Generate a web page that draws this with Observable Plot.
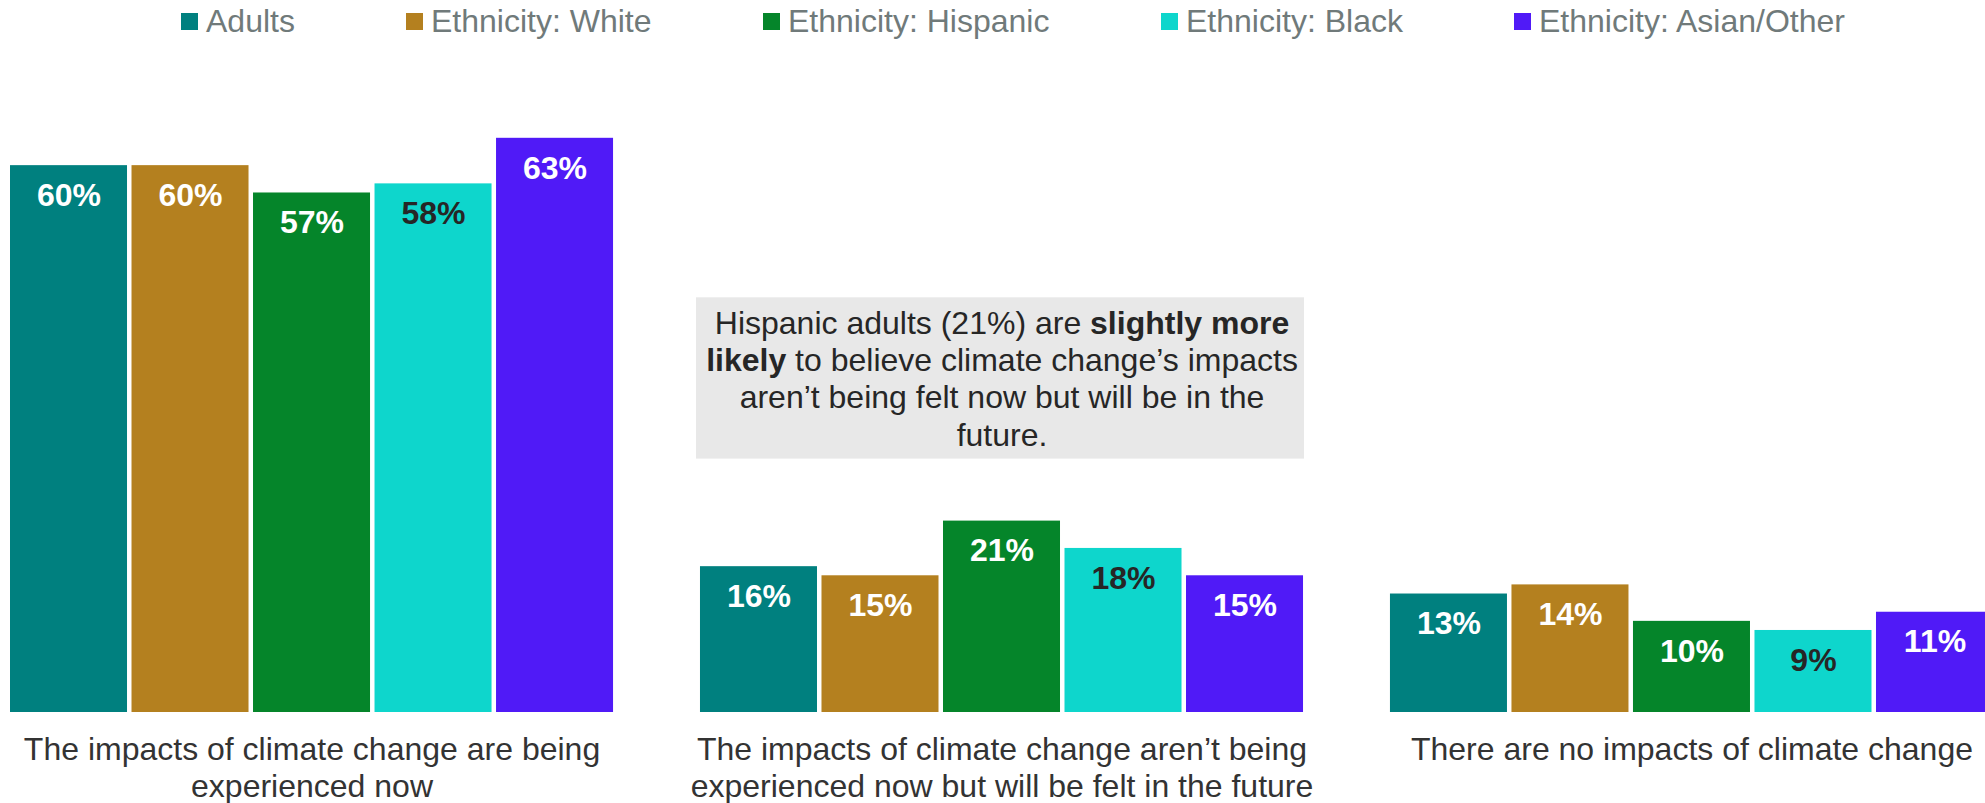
<!DOCTYPE html>
<html>
<head>
<meta charset="utf-8">
<script src="https://cdn.jsdelivr.net/npm/d3@7"></script>
<script src="https://cdn.jsdelivr.net/npm/@observablehq/plot@0.6"></script>
<style>
  html, body { margin: 0; padding: 0; background: #fff; overflow: hidden; }
  body { width: 1985px; height: 803px; font-family: "Liberation Sans", Arial, sans-serif; }
  #legend { position: relative; height: 50px; }
  .item { position: absolute; top: 3px; display: flex; align-items: center; height: 36px;
          font-size: 32px; line-height: 36px; color: #707a7a; white-space: nowrap; }
  .sw { width: 17px; height: 17px; margin-right: 8px; }
  #chart { width: 1985px; overflow: hidden; }
  #chart svg { display: block; max-width: none !important; }
</style>
</head>
<body>
<div id="legend"></div>
<div id="chart"></div>
<script>
// ---- data ----
const categories = [
  "The impacts of climate change are being experienced now",
  "The impacts of climate change aren’t being experienced now but will be felt in the future",
  "There are no impacts of climate change"
];
const categoryLabels = [
  "The impacts of climate change are being\nexperienced now",
  "The impacts of climate change aren’t being\nexperienced now but will be felt in the future",
  "There are no impacts of climate change"
];
const series = ["Adults", "Ethnicity: White", "Ethnicity: Hispanic", "Ethnicity: Black", "Ethnicity: Asian/Other"];
const adults   = [60, 16, 13];
const white    = [60, 15, 14];
const hispanic = [57, 21, 10];
const black    = [58, 18, 9];
const asian    = [63, 15, 11];
const colors = ["#00807f", "#b4801f", "#05852a", "#0ed6cc", "#501af7"];
const annotation = "Hispanic adults (21%) are **slightly more**\n**likely** to believe climate change’s impacts\naren’t being felt now but will be in the\nfuture.";

const valuesBySeries = [adults, white, hispanic, black, asian];
const data = [];
categories.forEach((c, ci) => {
  series.forEach((s, si) => data.push({category: c, series: s, value: valuesBySeries[si][ci]}));
});

// ---- legend ----
const legendLefts = [181, 406, 763, 1161, 1514];
const legend = document.getElementById("legend");
series.forEach((s, i) => {
  const it = document.createElement("div");
  it.className = "item";
  it.style.left = legendLefts[i] + "px";
  const sw = document.createElement("span");
  sw.className = "sw";
  sw.style.background = colors[i];
  it.appendChild(sw);
  const t = document.createElement("span");
  t.textContent = s;
  it.appendChild(t);
  legend.appendChild(it);
});

// ---- chart ----
const font = "'Liberation Sans', Arial, sans-serif";
const chart = Plot.plot({
  width: 1993,
  height: 753,
  marginTop: 24,
  marginBottom: 91,
  marginLeft: 10,
  marginRight: 0,
  style: {fontFamily: font, background: "#fff"},
  fx: {domain: categories, axis: null, paddingInner: 0.126, paddingOuter: 0, round: false},
  x: {domain: series, axis: null, paddingInner: 0.037, paddingOuter: 0, round: false},
  y: {domain: [0, 70], axis: null},
  color: {domain: series, range: colors},
  marks: [
    Plot.rect([categories[1]], {
      fx: d => d, y1: () => 27.8, y2: () => 45.5,
      fill: "#e8e8e8", insetLeft: -4, insetRight: -1
    }),
    Plot.text([categories[1]], {
      fx: d => d, y: () => 36.7, text: () => annotation,
      fontSize: 32, lineHeight: 1.16, fill: "#262626"
    }),
    Plot.barY(data, {fx: "category", x: "series", y: "value", fill: "series"}),
    Plot.text(data, {
      fx: "category", x: "series", y: "value", text: d => d.value + "%",
      dy: 30, fontSize: 32, fontWeight: "bold",
      fill: d => d.series === "Ethnicity: Black" ? "#262626" : "#ffffff"
    }),
    Plot.text(categories, {
      fx: d => d, text: (d, i) => categoryLabels[i],
      frameAnchor: "bottom", lineAnchor: "top", dy: 22,
      fontSize: 32, lineHeight: 1.14, fill: "#333333"
    })
  ]
});

// bold segments marked with ** in the annotation
const NS = "http://www.w3.org/2000/svg";
chart.querySelectorAll("tspan, text").forEach(el => {
  if (el.children.length) return;
  const txt = el.textContent;
  if (!txt.includes("**")) return;
  const parts = txt.split("**");
  el.textContent = "";
  parts.forEach((p, i) => {
    if (!p) return;
    const t = document.createElementNS(NS, "tspan");
    if (i % 2) t.setAttribute("font-weight", "bold");
    t.textContent = p;
    el.appendChild(t);
  });
});

document.getElementById("chart").appendChild(chart);
</script>
</body>
</html>
